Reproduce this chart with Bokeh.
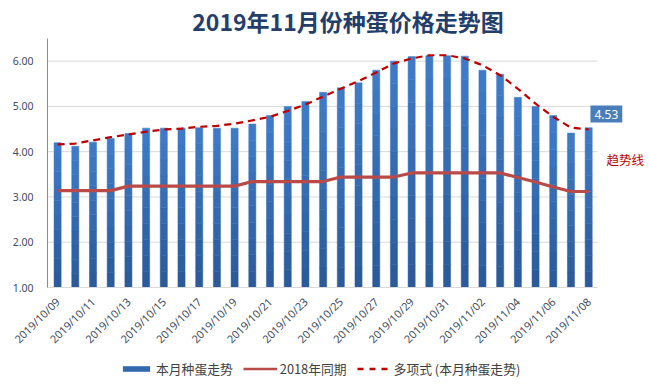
import numpy as np
from bokeh.plotting import figure
from bokeh.layouts import column
from bokeh.models import (ColumnDataSource, Range1d, FixedTicker, NumeralTickFormatter,
                          Legend, LegendItem, Label, Title)
from bokeh.embed import file_html
from bokeh.resources import INLINE

# ---------------- data ----------------
dates = ["2019/10/09", "2019/10/10", "2019/10/11", "2019/10/12", "2019/10/13", "2019/10/14",
         "2019/10/15", "2019/10/16", "2019/10/17", "2019/10/18", "2019/10/19", "2019/10/20",
         "2019/10/21", "2019/10/22", "2019/10/23", "2019/10/24", "2019/10/25", "2019/10/26",
         "2019/10/27", "2019/10/28", "2019/10/29", "2019/10/30", "2019/10/31", "2019/11/01",
         "2019/11/02", "2019/11/03", "2019/11/04", "2019/11/05", "2019/11/06", "2019/11/07",
         "2019/11/08"]
price_2019 = [4.20, 4.12, 4.21, 4.29, 4.40, 4.52, 4.52, 4.52, 4.53, 4.52, 4.52, 4.61,
              4.80, 5.00, 5.11, 5.31, 5.41, 5.52, 5.80, 6.00, 6.10, 6.12, 6.12, 6.11,
              5.80, 5.71, 5.20, 5.00, 4.80, 4.41, 4.53]
price_2018 = [3.14, 3.14, 3.14, 3.14, 3.24, 3.24, 3.24, 3.24, 3.24, 3.24, 3.24, 3.34,
              3.34, 3.34, 3.34, 3.34, 3.44, 3.44, 3.44, 3.44, 3.53, 3.53, 3.53, 3.53,
              3.53, 3.53, 3.43, 3.33, 3.22, 3.12, 3.12]
trend = [4.16, 4.18, 4.25, 4.32, 4.38, 4.44, 4.49, 4.51, 4.55, 4.57, 4.62, 4.69,
         4.77, 4.90, 5.04, 5.22, 5.39, 5.56, 5.75, 5.95, 6.06, 6.13, 6.13, 6.06,
         5.91, 5.69, 5.39, 5.06, 4.77, 4.53, 4.49]
y_ticks = [1, 2, 3, 4, 5, 6]
title_text = "2019年11月份种蛋价格走势图"
series_names = ["本月种蛋走势", "2018年同期", "多项式 (本月种蛋走势)"]
trend_note = "趋势线"

# ---------------- styles ----------------
FONT = "Noto Sans CJK SC"
BAR_DARK = np.array([0x2A, 0x59, 0x98])
BAR_LIGHT = np.array([0x3F, 0x7C, 0xC9])
C18 = "#B94A48"
CTR = "#C00000"
W = 648

idx = list(range(len(dates)))
n = len(dates)
x_lo, x_hi = -0.57, n - 0.5          # area occupied by the categories
y_lo, y_hi = 1, 6.5

p = figure(width=W, height=357, output_backend="svg", toolbar_location=None,
           x_range=Range1d(x_lo, x_hi + 2.88), y_range=Range1d(y_lo, y_hi),
           min_border_left=47, min_border_right=0, min_border_top=38, min_border_bottom=70)
p.outline_line_color = None
p.title = Title(text=title_text, align="center", offset=-19, text_font=FONT,
                text_font_style="bold", text_font_size="23px", text_color="#233E6B",
                standoff=2)

# horizontal grid lines limited to the category area
p.segment(x0=x_lo, x1=x_hi, y0=y_ticks, y1=y_ticks, line_color="#D9D9D9", line_width=1)

# bars with a vertical gradient (stacked slices of each bar)
N_SLICES = 10
vals = np.array(price_2019)
for k in range(N_SLICES):
    t = (k + 0.5) / N_SLICES
    col = BAR_DARK + (BAR_LIGHT - BAR_DARK) * t
    colour = "#%02x%02x%02x" % tuple(int(round(c)) for c in col)
    p.vbar(x=idx, bottom=y_lo + (vals - y_lo) * k / N_SLICES,
           top=y_lo + (vals - y_lo) * (k + 1) / N_SLICES, width=0.4,
           fill_color=colour, line_color=colour, line_width=0.5)

src = ColumnDataSource(dict(x=idx, p18=price_2018, tr=trend))
p.line(x="x", y="p18", source=src, line_color=C18, line_width=3.2)
p.line(x="x", y="tr", source=src, line_color=CTR, line_width=2.2, line_dash="7 5")

# axes
p.xgrid.grid_line_color = None
p.ygrid.grid_line_color = None

p.yaxis.ticker = FixedTicker(ticks=y_ticks)
p.yaxis.formatter = NumeralTickFormatter(format="0.00")
p.yaxis.axis_line_color = "#8C8C8C"
p.yaxis.major_tick_line_color = None
p.yaxis.minor_tick_line_color = None
p.yaxis.major_tick_out = 0
p.yaxis.minor_tick_out = 0
p.yaxis.major_label_standoff = 14
p.yaxis.major_label_text_font = "Noto Sans"
p.yaxis.major_label_text_font_size = "10.5px"
p.yaxis.major_label_text_color = "#3E4B5E"

p.xaxis.ticker = FixedTicker(ticks=idx[::2])
p.xaxis.major_label_overrides = {i: dates[i] for i in idx[::2]}
p.xaxis.major_label_orientation = np.pi / 4
p.xaxis.bounds = (x_lo, x_hi)
p.xaxis.axis_line_color = "#D9D9D9"
p.xaxis.major_tick_line_color = None
p.xaxis.minor_tick_line_color = None
p.xaxis.major_tick_out = 0
p.xaxis.minor_tick_out = 0
p.xaxis.major_label_standoff = 12
p.xaxis.major_label_text_font = "Noto Sans"
p.xaxis.major_label_text_font_size = "11px"
p.xaxis.major_label_text_color = "#3E4B5E"

# value label of last bar and trend-line note
p.add_layout(Label(x=n, y=price_2019[-1] + 0.3, text=f"{price_2019[-1]:.2f}",
                   text_align="center", text_baseline="middle", text_font="Noto Sans",
                   text_font_size="12px", text_color="white",
                   background_fill_color="#4A7EBB", padding=4))
p.add_layout(Label(x=n + 0.01, y=3.83, text=trend_note, text_align="left",
                   text_baseline="middle", text_font=FONT, text_font_size="12.5px",
                   text_color=CTR))

# ---------------- legend strip ----------------
lg = figure(width=W, height=31, output_backend="svg", toolbar_location=None,
            x_range=Range1d(0, 1), y_range=Range1d(0, 1),
            min_border=0, outline_line_color=None)
lg.axis.visible = False
lg.grid.visible = False
offscreen = ColumnDataSource(dict(x=[10, 11], y=[10, 11]))
r_bar = lg.vbar(x="x", top="y", width=0.5, source=offscreen,
                fill_color="#3468AE", line_color=None)
r_18 = lg.line(x="x", y="y", source=offscreen, line_color=C18, line_width=2.5)
r_tr = lg.line(x="x", y="y", source=offscreen, line_color=CTR, line_width=2.5,
               line_dash="6 6")
legend = Legend(items=[LegendItem(label=series_names[0], renderers=[r_bar]),
                       LegendItem(label=series_names[1], renderers=[r_18]),
                       LegendItem(label=series_names[2], renderers=[r_tr])],
                orientation="horizontal", location=(72, 10),
                label_text_font=FONT, label_text_font_size="12.8px",
                label_text_color="#404040", glyph_width=34, glyph_height=7,
                label_standoff=3, spacing=10, padding=2, margin=0,
                border_line_color=None, background_fill_alpha=0)
lg.add_layout(legend, "center")

open("out.html", "w").write(file_html(column(p, lg, spacing=0), INLINE))
